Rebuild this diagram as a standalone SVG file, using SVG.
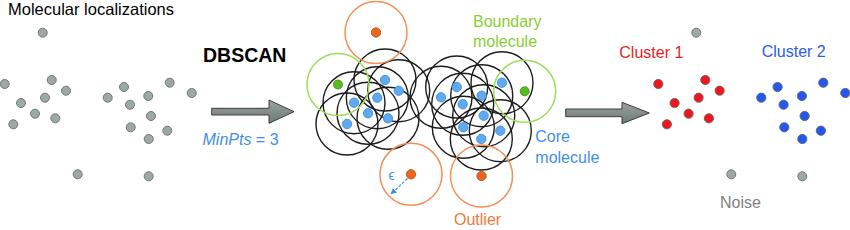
<svg xmlns="http://www.w3.org/2000/svg" width="850" height="230" viewBox="0 0 850 230">
<defs>
<linearGradient id="ag" x1="0" y1="0" x2="0" y2="1">
<stop offset="0" stop-color="#9aa3a1"/><stop offset="1" stop-color="#6e7876"/>
</linearGradient>
<marker id="eh" viewBox="0 0 10 10" refX="8" refY="5" markerWidth="5" markerHeight="5" orient="auto">
<path d="M0,0 L10,5 L0,10 z" fill="#3f8fe8"/>
</marker>
<style>
text{font-family:"Liberation Sans",Arial,sans-serif;font-size:16px}
.tt{font-size:16.5px}
.big{font-size:19.5px;font-weight:bold}
.sm{font-size:14px}
.g{fill:#9ea8a6;stroke:#6f7a78;stroke-width:1}
.c{fill:#5eaaf0;stroke:#3f86d6;stroke-width:0.8}
.o{fill:#e8661e;stroke:#b8500f;stroke-width:0.8}
.b{fill:#58bd1e;stroke:#3c8c10;stroke-width:0.8}
.r{fill:#f0141e;stroke:#7a6868;stroke-width:1}
.u{fill:#2457f0;stroke:#5d6a80;stroke-width:1}
.eps{fill:none;stroke:#1c1c1c;stroke-width:1.4}
.epo{fill:none;stroke:#f0915a;stroke-width:1.5}
.epg{fill:none;stroke:#9fdc5a;stroke-width:1.5}
.arr{fill:url(#ag);stroke:#3a3f3e;stroke-width:1}
</style>
</defs>

<g id="title"><text class="tt" x="8" y="15">Molecular localizations</text></g>

<g id="raw-points">
<circle class="g" cx="42.7" cy="32.7" r="4.5"/>
<circle class="g" cx="4.7" cy="84" r="4.5"/>
<circle class="g" cx="51.7" cy="80" r="4.5"/>
<circle class="g" cx="66" cy="90.7" r="4.5"/>
<circle class="g" cx="21" cy="103" r="4.5"/>
<circle class="g" cx="45" cy="97.7" r="4.5"/>
<circle class="g" cx="35" cy="113.7" r="4.5"/>
<circle class="g" cx="55.3" cy="118.3" r="4.5"/>
<circle class="g" cx="13.3" cy="124.3" r="4.5"/>
<circle class="g" cx="77.7" cy="174.3" r="4.5"/>
<circle class="g" cx="107.7" cy="97.7" r="4.5"/>
<circle class="g" cx="124" cy="87" r="4.5"/>
<circle class="g" cx="169.7" cy="82.7" r="4.5"/>
<circle class="g" cx="191.7" cy="93" r="4.5"/>
<circle class="g" cx="148.3" cy="96" r="4.5"/>
<circle class="g" cx="130" cy="104.7" r="4.5"/>
<circle class="g" cx="151" cy="116" r="4.5"/>
<circle class="g" cx="130.7" cy="127.3" r="4.5"/>
<circle class="g" cx="167.3" cy="130.7" r="4.5"/>
<circle class="g" cx="148.7" cy="139" r="4.5"/>
<circle class="g" cx="148.7" cy="176.3" r="4.5"/>
</g>

<g id="dbscan-label">
<text class="big" x="203" y="61.5">DBSCAN</text>
<text x="202.5" y="145" fill="#3f8fe8"><tspan font-style="italic">MinPts</tspan> = 3</text>
</g>

<g id="neighborhoods">
<circle class="eps" cx="385" cy="80" r="31"/>
<circle class="eps" cx="398.7" cy="90.7" r="31"/>
<circle class="eps" cx="377.3" cy="97.7" r="31"/>
<circle class="eps" cx="354" cy="102.7" r="31"/>
<circle class="eps" cx="368" cy="113.3" r="31"/>
<circle class="eps" cx="388" cy="118.3" r="31"/>
<circle class="eps" cx="347" cy="124" r="31"/>
<circle class="eps" cx="441" cy="97.3" r="31"/>
<circle class="eps" cx="456.7" cy="87" r="31"/>
<circle class="eps" cx="502" cy="82.7" r="31"/>
<circle class="eps" cx="481.7" cy="95.7" r="31"/>
<circle class="eps" cx="462.7" cy="104.3" r="31"/>
<circle class="eps" cx="483.7" cy="115.7" r="31"/>
<circle class="eps" cx="463.3" cy="127.3" r="31"/>
<circle class="eps" cx="500.3" cy="130.7" r="31"/>
<circle class="eps" cx="481.3" cy="139" r="31"/>
</g>

<g id="boundary-points">
<circle class="epg" cx="338" cy="84.5" r="31"/>
<circle class="epg" cx="524.7" cy="91.3" r="31"/>
<circle class="b" cx="338" cy="84.5" r="4.5"/>
<circle class="b" cx="524.7" cy="91.3" r="4.5"/>
</g>

<g id="outliers">
<circle class="epo" cx="376" cy="32.5" r="31"/>
<circle class="epo" cx="411" cy="174.3" r="31"/>
<circle class="epo" cx="481.5" cy="176" r="31"/>
<circle class="o" cx="376" cy="32.5" r="4.7"/>
<circle class="o" cx="411" cy="174.3" r="4.7"/>
<circle class="o" cx="481.5" cy="176" r="4.7"/>
</g>

<g id="core-points">
<circle class="c" cx="385" cy="80" r="4.7"/>
<circle class="c" cx="398.7" cy="90.7" r="4.7"/>
<circle class="c" cx="377.3" cy="97.7" r="4.7"/>
<circle class="c" cx="354" cy="102.7" r="4.7"/>
<circle class="c" cx="368" cy="113.3" r="4.7"/>
<circle class="c" cx="388" cy="118.3" r="4.7"/>
<circle class="c" cx="347" cy="124" r="4.7"/>
<circle class="c" cx="441" cy="97.3" r="4.7"/>
<circle class="c" cx="456.7" cy="87" r="4.7"/>
<circle class="c" cx="502" cy="82.7" r="4.7"/>
<circle class="c" cx="481.7" cy="95.7" r="4.7"/>
<circle class="c" cx="462.7" cy="104.3" r="4.7"/>
<circle class="c" cx="483.7" cy="115.7" r="4.7"/>
<circle class="c" cx="463.3" cy="127.3" r="4.7"/>
<circle class="c" cx="500.3" cy="130.7" r="4.7"/>
<circle class="c" cx="481.3" cy="139" r="4.7"/>
</g>

<g id="labels-middle">
<text x="473" y="26.7" fill="#86cf32">Boundary</text>
<text x="473" y="46.7" fill="#86cf32">molecule</text>
<text x="535.3" y="141.7" fill="#3f8fe8">Core</text>
<text x="535.3" y="162.7" fill="#3f8fe8">molecule</text>
<text x="454" y="225" fill="#ef7a3a">Outlier</text>
<text class="sm" x="388.5" y="180" fill="#3f8fe8">ϵ</text>
</g>

<g id="connectors">
<path class="arr" d="M211.7,108.3 H269 V100 L294,111.7 L269,123.3 V115 H211.7 Z"/>
<path class="arr" d="M565.7,109 H622 V102.3 L649.3,113 L622,123.7 V116.7 H565.7 Z"/>
<line x1="407.5" y1="178.5" x2="391.5" y2="193.5" stroke="#3f8fe8" stroke-width="1.2" stroke-dasharray="3,1.5" marker-end="url(#eh)"/>
</g>

<g id="cluster1">
<circle class="r" cx="658.3" cy="84" r="4.6"/>
<circle class="r" cx="705.3" cy="80" r="4.6"/>
<circle class="r" cx="719.6" cy="90.7" r="4.6"/>
<circle class="r" cx="674.6" cy="103" r="4.6"/>
<circle class="r" cx="698.6" cy="97.7" r="4.6"/>
<circle class="r" cx="688.6" cy="113.7" r="4.6"/>
<circle class="r" cx="708.9" cy="118.3" r="4.6"/>
<circle class="r" cx="666.9" cy="124.3" r="4.6"/>
<text x="619.3" y="57.7" fill="#ea1c22">Cluster 1</text>
</g>

<g id="cluster2">
<circle class="u" cx="761.3" cy="97.7" r="4.6"/>
<circle class="u" cx="777.6" cy="87" r="4.6"/>
<circle class="u" cx="823.3" cy="82.7" r="4.6"/>
<circle class="u" cx="845.3" cy="93" r="4.6"/>
<circle class="u" cx="801.9" cy="96" r="4.6"/>
<circle class="u" cx="783.6" cy="104.7" r="4.6"/>
<circle class="u" cx="804.6" cy="116" r="4.6"/>
<circle class="u" cx="784.3" cy="127.3" r="4.6"/>
<circle class="u" cx="820.9" cy="130.7" r="4.6"/>
<circle class="u" cx="802.3" cy="139" r="4.6"/>
<text x="761.7" y="57.2" fill="#2c5cf0">Cluster 2</text>
</g>

<g id="noise">
<circle class="g" cx="696.3" cy="32.7" r="4.5"/>
<circle class="g" cx="731.3" cy="174.3" r="4.5"/>
<circle class="g" cx="802.3" cy="176.3" r="4.5"/>
<text x="720" y="208" fill="#808080">Noise</text>
</g>
</svg>
